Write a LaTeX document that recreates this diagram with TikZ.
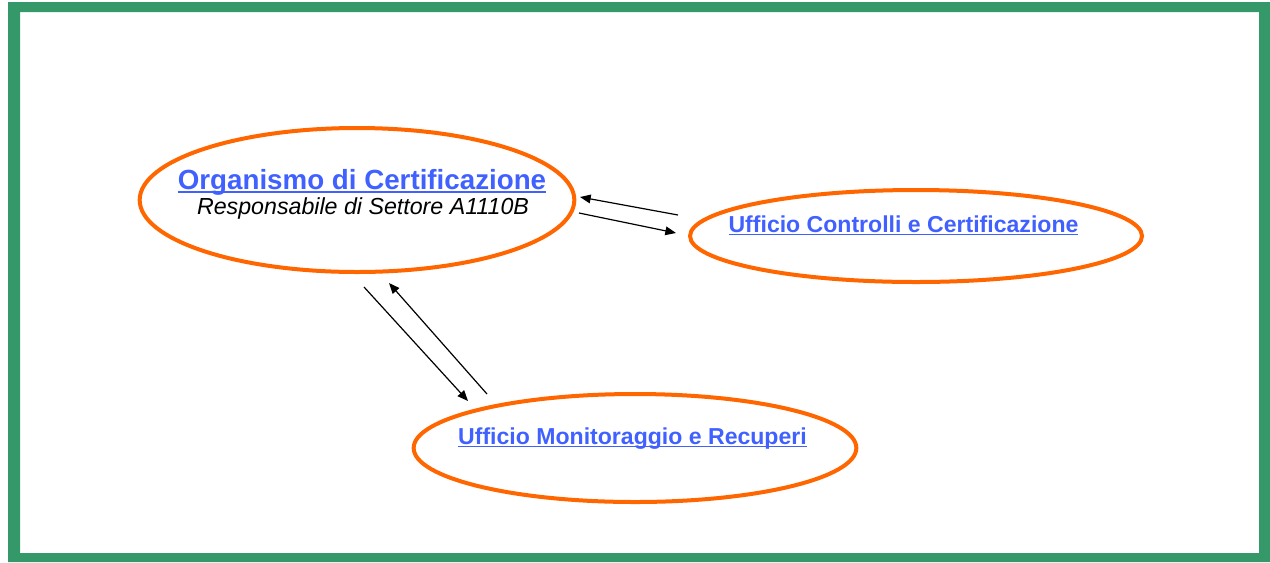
\documentclass[tikz,border=0pt]{standalone}
\usepackage{fontspec}
\setmainfont{Liberation Sans}
\usetikzlibrary{shapes.geometric,arrows.meta}
\definecolor{frame}{RGB}{52,152,104}
\definecolor{ring}{RGB}{255,102,0}
\definecolor{link}{RGB}{64,96,255}
\newcommand\weblink[1]{\setbox0\hbox{#1}\rlap{\rule[-0.13em]{\wd0}{0.06em}}\box0}
\tikzset{
  office/.style={draw=ring, line width=3pt, ellipse, inner sep=0pt},
  title/.style={anchor=base, text=link, font=\bfseries\fontsize{17.3}{20}\selectfont},
  flow/.style={line width=0.9pt, -{Triangle[length=8pt,width=6.5pt]}}
}

\begin{document}
\begin{tikzpicture}[x=0.75pt,y=-0.75pt]
  \useasboundingbox (0,0) rectangle (1270,562);
  % frame
  \fill[frame, even odd rule] (8,2) rectangle (1270,562) (20,12) rectangle (1259,553);
  % ellipses
  \node[office, minimum width=326pt, minimum height=108pt] (org) at (357,200) {};
  \node[office, minimum width=339pt, minimum height=69pt] (ucc) at (916,236) {};
  \node[office, minimum width=332pt, minimum height=81pt] (umr) at (635,448) {};
  % texts
  \node[title, font=\bfseries\fontsize{20.8}{25}\selectfont] (orgname) at (362,189) {\weblink{Organismo di Certificazione}};
  \node[anchor=base, font=\itshape\fontsize{17.4}{20}\selectfont] (orgresp) at (363,214.5) {Responsabile di Settore A1110B};
  \node[title] (uccname) at (903.5,232) {\weblink{Ufficio Controlli e Certificazione}};
  \node[title] (umrname) at (632.5,444) {\weblink{Ufficio Monitoraggio e Recuperi}};
  % arrow ends
  \coordinate (a1) at (678,215);
  \coordinate (a2) at (580,197);
  \coordinate (b1) at (579,213);
  \coordinate (b2) at (676,233);
  \coordinate (c1) at (364,287);
  \coordinate (c2) at (468,401);
  \coordinate (d1) at (487,394);
  \coordinate (d2) at (389,283);
  \draw[flow] (a1) -- (a2);
  \draw[flow] (b1) -- (b2);
  \draw[flow] (c1) -- (c2);
  \draw[flow] (d1) -- (d2);
\end{tikzpicture}
\end{document}
